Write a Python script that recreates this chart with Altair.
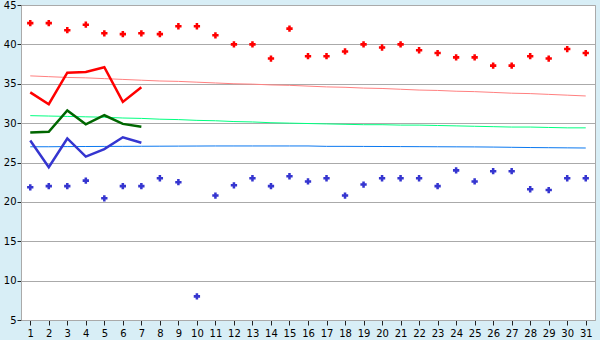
import altair as alt
import pandas as pd

days = list(range(1, 32))

# daily extreme maxima (red markers) and minima (blue markers)
max_pts = [42.7, 42.7, 41.8, 42.5, 41.4, 41.3, 41.4, 41.3, 42.3, 42.3,
           41.15, 40.0, 40.0, 38.2, 42.0, 38.5, 38.5, 39.1, 40.0, 39.6,
           40.0, 39.25, 38.9, 38.35, 38.35, 37.3, 37.3, 38.5, 38.2, 39.4, 38.9]
min_pts = [21.85, 22.0, 22.0, 22.7, 20.45, 22.0, 22.0, 23.0, 22.5, 8.0,
           20.8, 22.1, 23.0, 22.0, 23.25, 22.6, 23.0, 20.8, 22.2, 23.0,
           23.0, 23.0, 22.0, 24.0, 22.6, 23.9, 23.9, 21.6, 21.5, 23.0, 23.0]

# current month (days 1-7)
cur_days = [1, 2, 3, 4, 5, 6, 7]
cur_max = [33.9, 32.4, 36.4, 36.5, 37.1, 32.7, 34.55]
cur_mean = [28.8, 28.9, 31.6, 29.85, 31.0, 29.9, 29.55]
cur_min = [27.8, 24.4, 28.05, 25.75, 26.7, 28.2, 27.5]

# normals
norm_max = [36.0, 35.9, 35.8, 35.75, 35.65, 35.55, 35.45, 35.35, 35.3, 35.2,
            35.1, 35.0, 34.95, 34.85, 34.8, 34.7, 34.6, 34.55, 34.45, 34.4,
            34.3, 34.2, 34.15, 34.05, 34.0, 33.9, 33.8, 33.75, 33.65, 33.55, 33.45]
norm_mean = [30.95, 30.9, 30.85, 30.8, 30.75, 30.65, 30.6, 30.5, 30.45, 30.35,
             30.3, 30.2, 30.15, 30.05, 30.0, 29.95, 29.9, 29.85, 29.8, 29.8,
             29.75, 29.75, 29.7, 29.65, 29.6, 29.55, 29.5, 29.5, 29.45, 29.4, 29.4]
norm_min = [27.0, 27.0, 27.02, 27.03, 27.04, 27.05, 27.06, 27.07, 27.08, 27.09,
            27.1, 27.1, 27.1, 27.1, 27.1, 27.1, 27.05, 27.05, 27.04, 27.03,
            27.02, 27.01, 27.0, 26.99, 26.98, 26.96, 26.93, 26.9, 26.88, 26.86, 26.84]

x_enc = alt.X("day:Q", scale=alt.Scale(domain=[0.5, 31.5], nice=False, zero=False),
              axis=alt.Axis(values=days, format="d", grid=False, tickSize=5,
                            labelPadding=3, title=None, labelFlush=False))
y_axis = alt.Axis(values=list(range(5, 46, 5)), tickSize=4, labelPadding=1,
                  title=None, grid=True)
y_scale = alt.Scale(domain=[5, 45], nice=False, zero=False)


def line_layer(d, v, color, width):
    df = pd.DataFrame({"day": d, "v": v})
    return alt.Chart(df).mark_line(color=color, strokeWidth=width).encode(
        x=x_enc, y=alt.Y("v:Q", scale=y_scale, axis=y_axis))


def point_layer(d, v, color):
    df = pd.DataFrame({"day": d, "v": v})
    return alt.Chart(df).mark_point(shape="cross", filled=True, size=40,
                                    color=color, opacity=1).encode(
        x=x_enc, y=alt.Y("v:Q", scale=y_scale, axis=y_axis))


chart = alt.layer(
    line_layer(days, norm_max, "#ff8080", 1),
    line_layer(days, norm_mean, "#00ff80", 1),
    line_layer(days, norm_min, "#0a78f0", 1),
    line_layer(cur_days, cur_max, "#ff0000", 2.5),
    line_layer(cur_days, cur_mean, "#006600", 2.5),
    line_layer(cur_days, cur_min, "#3535d0", 2.5),
    point_layer(days, max_pts, "#ff0000"),
    point_layer(days, min_pts, "#3535d0"),
).properties(
    width=574, height=315,
    autosize=alt.AutoSizeParams(type="none"),
    padding={"left": 21, "top": 5, "right": 5, "bottom": 20},
    background="#d8eef6",
).configure_view(
    fill="white", stroke="#aaaaaa", strokeWidth=1
).configure_axis(
    domainColor="#aaaaaa", tickColor="#222222", gridColor="#aaaaaa",
    labelFont="DejaVu Sans", labelFontSize=10, labelColor="#000000",
    domainWidth=1, gridWidth=1
)

chart.save("out.html", embed_options={"renderer": "svg", "actions": False})
